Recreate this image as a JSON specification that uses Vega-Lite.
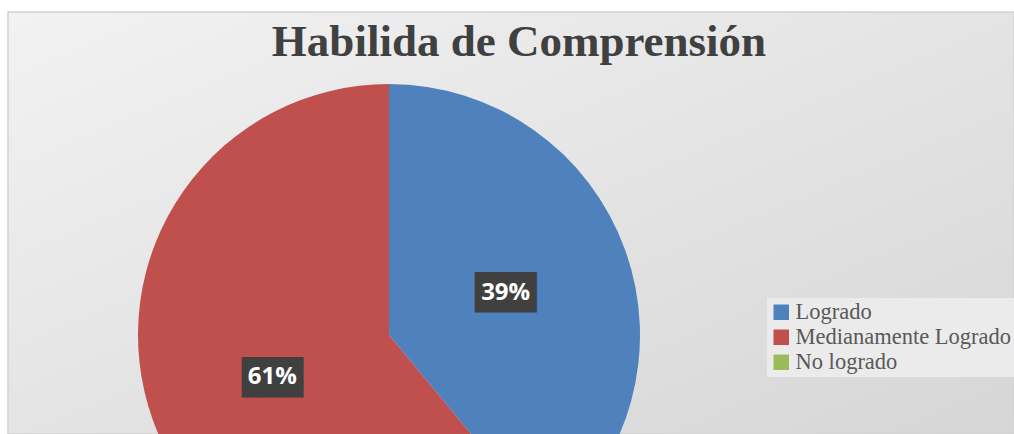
{
  "$schema": "https://vega.github.io/schema/vega-lite/v6.json",
  "width": 1006,
  "height": 422,
  "autosize": {"type": "none"},
  "padding": {"left": 8, "top": 12, "right": 0, "bottom": 0},
  "background": "#ffffff",
  "config": {"view": {"stroke": null}},
  "title": {
    "text": "Habilida de Comprensión",
    "font": "Liberation Serif",
    "fontSize": 45,
    "fontWeight": "bold",
    "color": "#404040",
    "anchor": "middle",
    "baseline": "alphabetic",
    "offset": -43,
    "dy": 47,
    "dx": 8
  },
  "data": {
    "values": [
      {"cat": "Logrado", "v": 39, "o": 1, "lab": "39%"},
      {"cat": "Medianamente Logrado", "v": 61, "o": 2, "lab": "61%"},
      {"cat": "No logrado", "v": 0, "o": 3, "lab": ""}
    ]
  },
  "layer": [
    {
      "data": {"values": [{"bg": 1}]},
      "mark": {
        "type": "rect",
        "stroke": "#d2d2d2",
        "strokeWidth": 1.5,
        "fill": {
          "gradient": "linear",
          "x1": 0, "y1": 0, "x2": 1, "y2": 1,
          "stops": [
            {"offset": 0, "color": "#f2f2f2"},
            {"offset": 1, "color": "#d6d6d6"}
          ]
        }
      },
      "encoding": {}
    },
    {
      "mark": {"type": "arc", "radius": 251, "x": 381, "y": 323, "clip": true},
      "encoding": {
        "theta": {"field": "v", "type": "quantitative", "stack": true},
        "order": {"field": "o", "type": "quantitative"},
        "color": {
          "field": "cat",
          "type": "nominal",
          "sort": ["Logrado", "Medianamente Logrado", "No logrado"],
          "scale": {
            "domain": ["Logrado", "Medianamente Logrado", "No logrado"],
            "range": ["#4f81bd", "#c0504d", "#9bbb59"]
          },
          "legend": {
            "title": null,
            "orient": "none",
            "legendX": 759,
            "legendY": 286,
            "fillColor": "#ebebeb",
            "padding": 3,
            "symbolType": "square",
            "symbolSize": 240,
            "symbolStrokeWidth": 0,
            "symbolOpacity": 1,
            "labelFont": "Liberation Serif",
            "labelFontSize": 22.5,
            "labelColor": "#595959",
            "labelOffset": 3,
            "rowPadding": 2,
            "labelLimit": 300
          }
        }
      }
    },
    {
      "transform": [{"filter": "datum.v > 0"}],
      "mark": {
        "type": "text",
        "x": 381,
        "y": 323,
        "radius": 124,
        "text": "███",
        "font": "DejaVu Sans Mono",
        "fontSize": 34,
        "color": "#404040",
        "baseline": "middle",
        "align": "center",
        "dy": 1.5
      },
      "encoding": {
        "theta": {"field": "v", "type": "quantitative", "stack": true},
        "order": {"field": "o", "type": "quantitative"}
      }
    },
    {
      "transform": [{"filter": "datum.v > 0"}],
      "mark": {
        "type": "text",
        "x": 381,
        "y": 323,
        "radius": 124,
        "font": "Open Sans",
        "fontSize": 24,
        "fontWeight": "bold",
        "color": "#ffffff",
        "baseline": "middle",
        "align": "center"
      },
      "encoding": {
        "theta": {"field": "v", "type": "quantitative", "stack": true},
        "order": {"field": "o", "type": "quantitative"},
        "text": {"field": "lab"}
      }
    }
  ]
}
